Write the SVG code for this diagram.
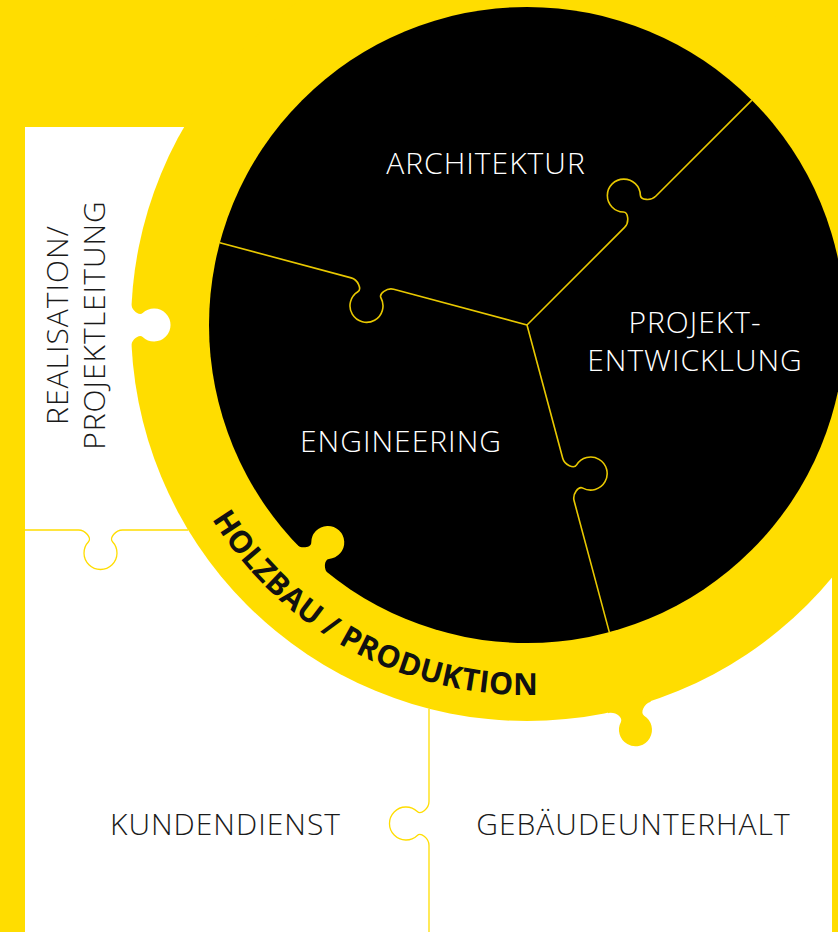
<svg xmlns="http://www.w3.org/2000/svg" xmlns:xlink="http://www.w3.org/1999/xlink" width="838" height="932" viewBox="0 0 838 932">
  <defs>
    <style>
      .yel { fill: #FFDD00; }
      .wht { fill: #FFFFFF; }
      .blk { fill: #000000; }
      .divW { fill: none; stroke: #FFDD00; stroke-width: 1.3; }
      .divB { fill: none; stroke: #E8C800; stroke-width: 1.6; }
      .lblW { font-family: "Open Sans", "Liberation Sans", sans-serif; font-size: 30px; font-weight: 300; letter-spacing: 1px; fill: #FFFFFF; text-anchor: middle; }
      .lblD { font-family: "Open Sans", "Liberation Sans", sans-serif; font-size: 30px; font-weight: 300; letter-spacing: 1px; fill: #1A1A1A; text-anchor: middle; }
      .lblRing { font-family: "Open Sans", "Liberation Sans", sans-serif; font-size: 30.5px; font-weight: bold; letter-spacing: 0.3px; fill: #111111; }
    </style>
    <path id="knob" d="M -22 6 L -22 0 C -15 0 -8.6 -8.1 -12 -11.7 A 16.5 16.5 0 1 1 12 -11.7 C 8.6 -8.1 15 0 22 0 L 22 6 Z"/>
    <path id="ringArc" d="M 211.9 518.9 A 370 370 0 0 0 591.2 689.4"/>
  </defs>

  <g id="background">
    <rect class="yel" x="0" y="0" width="838" height="932"/>
    <rect class="wht" x="25" y="127" width="807" height="805"/>
  </g>

  <g id="node-holzbau">
    <circle class="yel" cx="527" cy="325" r="396"/>
    <use xlink:href="#knob" class="yel" transform="translate(629.5,707.5) rotate(165)"/>
    <text class="lblRing"><textPath xlink:href="#ringArc">HOLZBAU / PRODUKTION</textPath></text>
  </g>

  <g id="node-realisation">
    <use xlink:href="#knob" class="wht" transform="translate(131,325) rotate(90)"/>
    <text class="lblD" transform="translate(68,325) rotate(-90)">REALISATION/</text>
    <text class="lblD" transform="translate(105,325) rotate(-90)">PROJEKTLEITUNG</text>
  </g>

  <g id="node-core">
    <circle class="blk" cx="527" cy="325" r="318"/>
    <use xlink:href="#knob" class="yel" transform="translate(312.2,559.4) rotate(42.5)"/>
  </g>

  <g id="node-architektur">
    <text class="lblW" x="486" y="174">ARCHITEKTUR</text>
  </g>

  <g id="node-projektentwicklung">
    <text class="lblW" x="695" y="333">PROJEKT-</text>
    <text class="lblW" x="695" y="371">ENTWICKLUNG</text>
  </g>

  <g id="node-engineering">
    <text class="lblW" x="401" y="452">ENGINEERING</text>
  </g>

  <g id="node-kundendienst">
    <text class="lblD" x="225.5" y="835">KUNDENDIENST</text>
  </g>

  <g id="node-gebaeudeunterhalt">
    <text class="lblD" x="633.5" y="835">GEBÄUDEUNTERHALT</text>
  </g>

  <g id="connectors">
    <path class="divB" transform="translate(527,325) rotate(-45)" d="M 0 0 H 138 C 145 0 151.4 -8.1 148 -11.7 A 16.5 16.5 0 1 1 172 -11.7 C 168.6 -8.1 175 0 182 0 H 318"/>
    <path class="divB" transform="translate(527,325) rotate(195)" d="M 0 0 H 138 C 145 0 151.4 -8.1 148 -11.7 A 16.5 16.5 0 1 1 172 -11.7 C 168.6 -8.1 175 0 182 0 H 318"/>
    <path class="divB" transform="translate(527,325) rotate(75)" d="M 0 0 H 138 C 145 0 151.4 -8.1 148 -11.7 A 16.5 16.5 0 1 1 172 -11.7 C 168.6 -8.1 175 0 182 0 H 318"/>
    <path class="divW" transform="translate(100.5,530) scale(1,-1)" d="M -75.5 0 H -22 C -15 0 -8.6 -8.1 -12 -11.7 A 16.5 16.5 0 1 1 12 -11.7 C 8.6 -8.1 15 0 22 0 H 87.7"/>
    <path class="divW" transform="translate(429,823.5) rotate(-90)" d="M -108.5 0 H -22 C -15 0 -8.6 -8.1 -12 -11.7 A 16.5 16.5 0 1 1 12 -11.7 C 8.6 -8.1 15 0 22 0 H 114.8"/>
  </g>
</svg>
